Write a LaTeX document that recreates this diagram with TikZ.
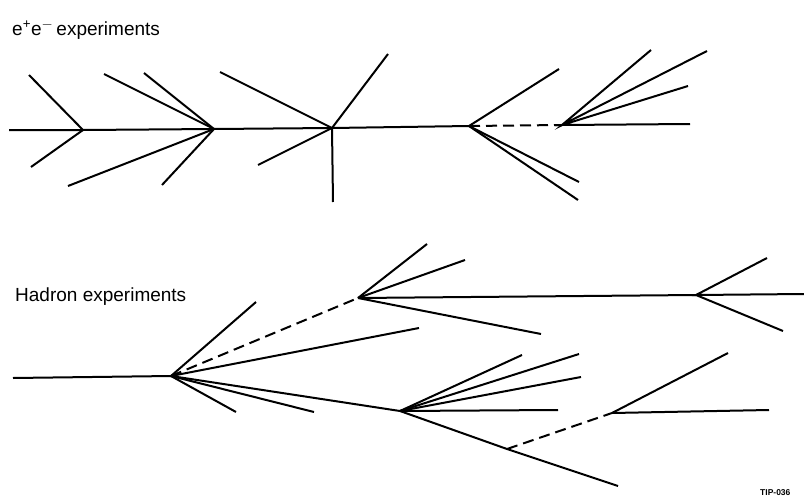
\documentclass[tikz,border=0pt]{standalone}
\usepackage{fontspec}
\setmainfont{Liberation Sans}
\begin{document}
\begin{tikzpicture}[x=1pt,y=-1pt,
  track/.style={line width=2pt,line cap=butt},
  neutral/.style={track,dash pattern=on 11pt off 6pt},
  title/.style={font=\fontsize{19}{21}\selectfont,anchor=base west,inner sep=0pt},
  tag/.style={font=\fontsize{8.5}{9}\selectfont\bfseries,anchor=base west,inner sep=0pt}]
\useasboundingbox (0,0) rectangle (804,498);
\fill[white] (0,0) rectangle (804,498);

\node[title] (t1) at (12,35) {e\textsuperscript{+}e\textsuperscript{$-$}\,experiments};
\node[title] (t2) at (15,301) {Hadron experiments};
\node[tag] (t3) at (760,495) {TIP-036};

% ---- e+e- event
\coordinate (s0) at (9,130);
\coordinate (A) at (83,130);
\coordinate (B) at (214,129);
\coordinate (C) at (332,128);
\coordinate (D) at (469,126);
\coordinate (E) at (562,125);
\coordinate (a1) at (29,75);
\coordinate (a2) at (31,167);
\coordinate (b1) at (104,74);
\coordinate (b2) at (144,73);
\coordinate (b3) at (68,186);
\coordinate (b4) at (162,185);
\coordinate (c1) at (220,72);
\coordinate (c2) at (388,54);
\coordinate (c3) at (258,165);
\coordinate (c4) at (333,202);
\coordinate (d1) at (559,69);
\coordinate (d2) at (579,182);
\coordinate (d3) at (578,200);
\coordinate (e1) at (651,50);
\coordinate (e2) at (707,51);
\coordinate (e3) at (688,86);
\coordinate (e4) at (690,124);

\draw[track] (s0) -- (A) -- (B) -- (C) -- (D);
\draw[track] (a1) -- (A) -- (a2);
\draw[track] (b1) -- (B) -- (b3);
\draw[track] (b2) -- (B) -- (b4);
\draw[track] (c1) -- (C) -- (c2);
\draw[track] (c3) -- (C) -- (c4);
\draw[track] (d1) -- (D) -- (d2);
\draw[track] (D) -- (d3);
\draw[neutral] (D) -- (E);
\draw[track] (e1) -- (E) -- (e2);
\draw[track] (e3) -- (E) -- (e4);

% ---- hadron event
\coordinate (h0) at (13,378);
\coordinate (F) at (171,376);
\coordinate (G) at (358,298);
\coordinate (H) at (400,411);
\coordinate (I) at (696,295);
\coordinate (J) at (507,449);
\coordinate (K) at (612,413);
\coordinate (f1) at (256,302);
\coordinate (f2) at (419,328);
\coordinate (f3) at (236,412);
\coordinate (f4) at (314,412);
\coordinate (g1) at (427,244);
\coordinate (g2) at (465,260);
\coordinate (g3) at (541,334);
\coordinate (i1) at (767,258);
\coordinate (i2) at (804,294);
\coordinate (i3) at (783,331);
\coordinate (h1) at (522,355);
\coordinate (h2) at (579,354);
\coordinate (h3) at (581,377);
\coordinate (h4) at (558,410);
\coordinate (h5) at (618,486);
\coordinate (k1) at (728,353);
\coordinate (k2) at (769,410);

\draw[track] (h0) -- (F);
\draw[track] (F) -- (f1);
\draw[neutral] (F) -- (G);
\draw[track] (F) -- (f2);
\draw[track] (F) -- (f3);
\draw[track] (F) -- (f4);
\draw[track] (F) -- (H);
\draw[track] (G) -- (g1);
\draw[track] (G) -- (g2);
\draw[track] (G) -- (I);
\draw[track] (G) -- (g3);
\draw[track] (i1) -- (I) -- (i2);
\draw[track] (I) -- (i3);
\draw[track] (H) -- (h1);
\draw[track] (H) -- (h2);
\draw[track] (H) -- (h3);
\draw[track] (H) -- (h4);
\draw[track] (H) -- (J) -- (h5);
\draw[neutral] (J) -- (K);
\draw[track] (K) -- (k1);
\draw[track] (K) -- (k2);
\end{tikzpicture}
\end{document}
